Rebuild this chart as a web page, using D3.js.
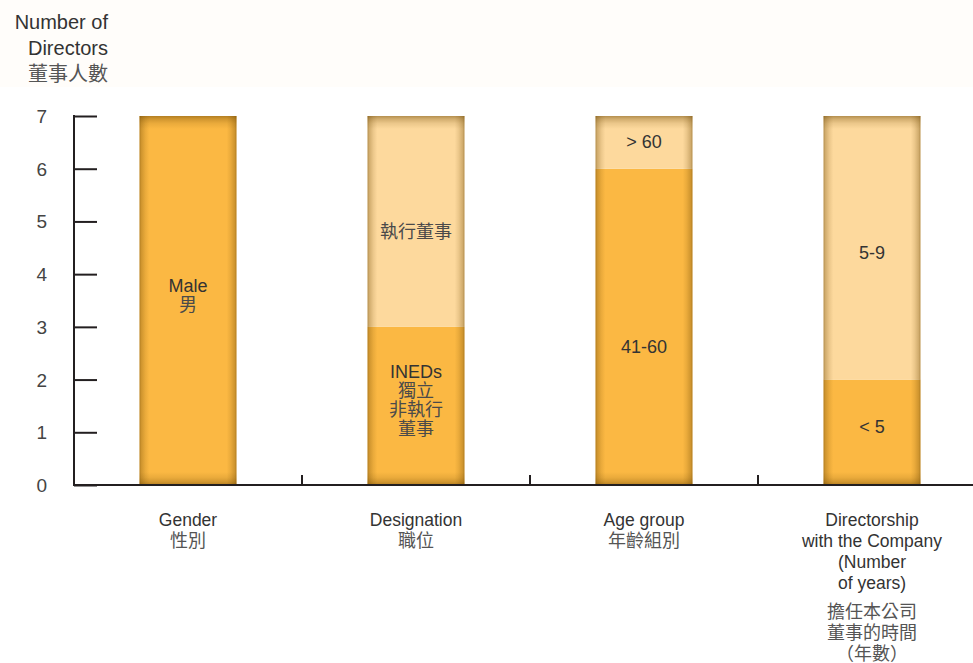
<!DOCTYPE html>
<html><head><meta charset="utf-8">
<script src="https://cdn.jsdelivr.net/npm/d3@7"></script>
<style>
body{margin:0;background:#fff;}
text{font-family:"Liberation Sans",Arial,"Noto Sans CJK TC",sans-serif;}
</style></head>
<body><svg id="c" width="973" height="663"></svg>
<script>
const categories = ["Gender", "Designation", "Age group", "Directorship"];
const categoryLabels = [
  ["Gender", "性別"],
  ["Designation", "職位"],
  ["Age group", "年齡組別"],
  ["Directorship", "with the Company", "(Number", "of years)", "擔任本公司", "董事的時間", "（年數）"]
];
const lowerValues = [7, 3, 6, 2];
const upperValues = [0, 4, 1, 5];
const lowerLabels = [["Male", "男"], ["INEDs", "獨立", "非執行", "董事"], ["41-60"], ["< 5"]];
const upperLabels = [[], ["執行董事"], ["> 60"], ["5-9"]];
const lowerLabelAt = [3.6, 1.6, 2.62, 1.1];
const upperLabelAt = [null, 4.8, 6.5, 4.4];
const yTicks = [0, 1, 2, 3, 4, 5, 6, 7];
const yTitle = ["Number of", "Directors", "董事人數"];

const svg = d3.select("#c");
const mLeft = 74, mRight = 986, mTop = 116, mBottom = 485;
const x = d3.scaleBand().domain(categories).range([mLeft, mRight]).padding(0);
const y = d3.scaleLinear().domain([0, 7]).range([mBottom, mTop]);
const barW = x.bandwidth() * 0.425;
const isZh = t => /[\u3000-\u9fff\uff00-\uffef]/.test(t);

const defs = svg.append("defs");
const gh = defs.append("linearGradient").attr("id", "gh").attr("x1", 0).attr("x2", 1).attr("y1", 0).attr("y2", 0);
[[0, 0.5], [0.02, 0.3], [0.06, 0.12], [0.1, 0], [0.9, 0], [0.94, 0.12], [0.98, 0.3], [1, 0.5]].forEach(([o, a]) =>
  gh.append("stop").attr("offset", o).attr("stop-color", "#6b4500").attr("stop-opacity", a));
const gv = defs.append("linearGradient").attr("id", "gv").attr("x1", 0).attr("x2", 0).attr("y1", 0).attr("y2", 1);
[[0, 0.5], [0.008, 0.3], [0.02, 0.12], [0.035, 0], [0.965, 0], [0.98, 0.12], [0.992, 0.3], [1, 0.5]].forEach(([o, a]) =>
  gv.append("stop").attr("offset", o).attr("stop-color", "#6b4500").attr("stop-opacity", a));

// faint cream header band
svg.append("rect").attr("x", 0).attr("y", 0).attr("width", 973).attr("height", 87).attr("fill", "#fffdfa");

// y title
svg.append("g").selectAll("text").data(yTitle).join("text")
  .attr("x", 108).attr("y", (d, i) => 29 + i * 26).attr("text-anchor", "end")
  .attr("font-size", 20).attr("fill", d => isZh(d) ? "#555" : "#333").text(d => d);

function label(g, cx, cy, lines) {
  const lh = 19;
  lines.forEach((t, k) => {
    g.append("text").attr("x", cx).attr("y", cy + (k - (lines.length - 1) / 2) * lh + 6)
      .attr("text-anchor", "middle").attr("font-size", 18)
      .attr("fill", isZh(t) ? "#4a4a4a" : "#333").text(t);
  });
}

// bars
const bars = svg.append("g");
categories.forEach((c, i) => {
  const bx = x(c) + (x.bandwidth() - barW) / 2;
  const g = bars.append("g");
  g.append("rect").attr("x", bx).attr("width", barW)
    .attr("y", y(lowerValues[i])).attr("height", y(0) - y(lowerValues[i])).attr("fill", "#fbb843");
  if (upperValues[i] > 0) {
    g.append("rect").attr("x", bx).attr("width", barW)
      .attr("y", y(lowerValues[i] + upperValues[i])).attr("height", y(lowerValues[i]) - y(lowerValues[i] + upperValues[i]))
      .attr("fill", "#fdd99d");
  }
  const tot = lowerValues[i] + upperValues[i];
  g.append("rect").attr("x", bx).attr("width", barW).attr("y", y(tot)).attr("height", y(0) - y(tot)).attr("fill", "url(#gh)");
  g.append("rect").attr("x", bx).attr("width", barW).attr("y", y(tot)).attr("height", y(0) - y(tot)).attr("fill", "url(#gv)");

  const cx = x(c) + x.bandwidth() / 2;
  label(g, cx, y(lowerLabelAt[i]), lowerLabels[i]);
  if (upperLabels[i].length) label(g, cx, y(upperLabelAt[i]), upperLabels[i]);
});

// y axis
const yAxis = svg.append("g").attr("transform", `translate(${mLeft},0)`)
  .call(d3.axisRight(y).tickValues(yTicks).tickSize(23).tickFormat(""));
yAxis.select(".domain").remove();
yAxis.selectAll("line").attr("stroke", "#231f20").attr("stroke-width", 2);
svg.append("line").attr("x1", mLeft).attr("x2", mLeft).attr("y1", mTop - 1).attr("y2", mBottom + 1)
  .attr("stroke", "#231f20").attr("stroke-width", 2);
svg.append("g").selectAll("text").data(yTicks).join("text")
  .attr("x", 47).attr("y", d => y(d) + 7).attr("text-anchor", "end")
  .attr("font-size", 19).attr("fill", "#444").text(d => d);

// baseline & separators
svg.append("line").attr("x1", mLeft - 1).attr("x2", 973).attr("y1", mBottom).attr("y2", mBottom)
  .attr("stroke", "#231f20").attr("stroke-width", 2);
svg.append("g").selectAll("line").data(categories.slice(1)).join("line")
  .attr("x1", d => x(d)).attr("x2", d => x(d)).attr("y1", mBottom - 10).attr("y2", mBottom)
  .attr("stroke", "#231f20").attr("stroke-width", 2);

// x labels
categories.forEach((c, i) => {
  const cx = x(c) + x.bandwidth() / 2;
  const lines = categoryLabels[i];
  let yy = 526;
  lines.forEach((t, k) => {
    if (k > 0) yy += (isZh(t) && !isZh(lines[k - 1]) && i === 3) ? 29 : (isZh(t) ? 21 : 21);
    svg.append("text").attr("x", cx).attr("y", yy).attr("text-anchor", "middle")
      .attr("font-size", isZh(t) ? 18 : 17.5).attr("fill", isZh(t) ? "#555" : "#333").text(t);
  });
});
</script></body></html>
